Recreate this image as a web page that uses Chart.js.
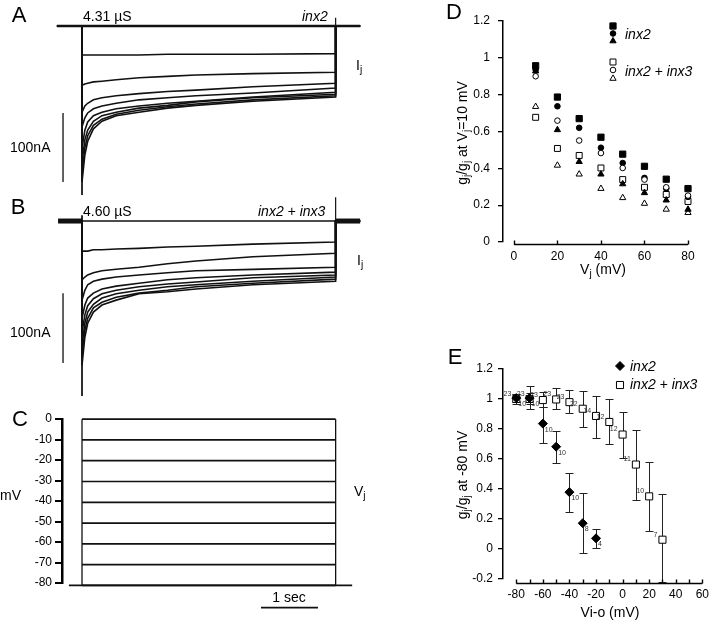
<!DOCTYPE html>
<html>
<head>
<meta charset="utf-8">
<script src="https://cdn.jsdelivr.net/npm/chart.js@4.4.1/dist/chart.umd.min.js"></script>
<style>
  body { margin: 0; width: 717px; height: 630px; position: relative; overflow: hidden; background: #fff;
         font-family: "Liberation Sans", Arial, Helvetica, sans-serif; color: #000; }
  canvas { position: absolute; }
  .t { position: absolute; white-space: nowrap; line-height: 1; transform: translateY(-50%); font-size: 14px; }
  .c { transform: translate(-50%, -50%); }
  .rot { transform: translate(-50%, -50%) rotate(-90deg); }
  .p { font-size: 22px; }
  .i { font-style: italic; }
  sub { font-size: 0.72em; vertical-align: -0.3em; line-height: 0; }
</style>
</head>
<body>
<canvas id="traceA" width="380" height="200" style="left:0;top:0"></canvas>
<canvas id="traceB" width="380" height="205" style="left:0;top:195px"></canvas>
<canvas id="axisC" width="72" height="215" style="left:0;top:400px"></canvas>
<canvas id="stepC" width="380" height="224" style="left:0;top:406px"></canvas>
<canvas id="chartD" width="277" height="300" style="left:440px;top:0"></canvas>
<canvas id="chartE" width="277" height="310" style="left:440px;top:320px"></canvas>

<div class="t p c" style="left:19px;top:15px">A</div>
<div class="t" style="left:83px;top:16px">4.31 µS</div>
<div class="t i" style="left:302px;top:16px">inx2</div>
<div class="t" style="left:356px;top:65px">I<sub>j</sub></div>
<div class="t" style="left:10px;top:147px">100nA</div>

<div class="t p c" style="left:18px;top:207px">B</div>
<div class="t" style="left:83px;top:211px">4.60 µS</div>
<div class="t i" style="left:258px;top:211px">inx2 + inx3</div>
<div class="t" style="left:357px;top:260px">I<sub>j</sub></div>
<div class="t" style="left:10px;top:332px">100nA</div>

<div class="t p c" style="left:20px;top:419px">C</div>
<div class="t" style="left:0;top:495px">mV</div>
<div class="t" style="left:354px;top:491px">V<sub>j</sub></div>
<div class="t c" style="left:289px;top:597px">1 sec</div>

<div class="t p c" style="left:454px;top:12px">D</div>
<div class="t i" style="left:625px;top:34px">inx2</div>
<div class="t i" style="left:625px;top:71px">inx2 + inx3</div>
<div class="t c" style="left:603px;top:269px">V<sub>j</sub> (mV)</div>
<div class="t rot" style="left:462px;top:133px">g<sub>j</sub>/g<sub>j</sub> at V<sub>j</sub>=10 mV</div>

<div class="t p c" style="left:455px;top:357px">E</div>
<div class="t i" style="left:630px;top:366px">inx2</div>
<div class="t i" style="left:630px;top:384px">inx2 + inx3</div>
<div class="t c" style="left:610px;top:612px">Vi-o (mV)</div>
<div class="t rot" style="left:462px;top:475px">g<sub>j</sub>/g<sub>j</sub> at -80 mV</div>

<script>
// junctional current traces, nA, sampled at these times (s) after the step
const sampleTimes = [0, 0.05, 0.1, 0.2, 0.35, 0.6, 1, 1.5, 2, 3, 4.45]
const pulseEnd = 4.45

// Vj = 10..80 mV, top to bottom
const inx2Traces = [
  [-42, -42, -42, -42, -42, -42, -42, -41, -41, -41, -40],
  [-86, -84, -83, -81, -80, -78, -75, -73, -71, -69, -67],
  [-125, -116, -112, -107, -104, -101, -98, -95, -93, -88, -83],
  [-146, -133, -126, -120, -116, -112, -107, -104, -101, -97, -90],
  [-177, -151, -139, -130, -125, -120, -116, -112, -109, -103, -96],
  [-197, -165, -151, -138, -130, -125, -119, -115, -110, -104, -99],
  [-215, -177, -159, -144, -135, -128, -122, -117, -113, -107, -101],
  [-226, -187, -167, -149, -138, -130, -125, -119, -115, -109, -103]
]
const inx23Traces = [
  [-43, -43, -43, -41, -41, -40, -39, -37, -36, -33, -30],
  [-84, -80, -77, -74, -71, -69, -66, -61, -57, -51, -46],
  [-113, -99, -91, -86, -83, -80, -77, -74, -71, -69, -66],
  [-139, -120, -110, -103, -97, -93, -89, -84, -81, -77, -73],
  [-159, -134, -121, -111, -104, -99, -94, -90, -87, -81, -77],
  [-177, -146, -130, -119, -110, -104, -99, -94, -91, -86, -80],
  [-193, -156, -139, -124, -116, -109, -103, -99, -94, -89, -83],
  [-206, -166, -146, -130, -120, -113, -104, -101, -97, -91, -86]
]
const transientPeak = { inx2: -245, inx23: -250 }
const offTransient = { inx2: 12, inx23: 34 }

// voltage steps (panel C)
const holdingMv = -80
const stepLevels = [0, -10, -20, -30, -40, -50, -60, -70, -80]
const stepTicks = [-80, -70, -60, -50, -40, -30, -20, -10, 0]

// panel D: normalised gj vs Vj
const vj = [10, 20, 30, 40, 50, 60, 70, 80]
const inx2Square = [0.957, 0.787, 0.670, 0.569, 0.477, 0.411, 0.341, 0.290]
const inx2Circle = [0.935, 0.737, 0.620, 0.512, 0.429, 0.348, 0.290, 0.245]
const inx2Triangle = [0.928, 0.609, 0.436, 0.368, 0.315, 0.267, 0.227, 0.177]
const inx23Square = [0.677, 0.508, 0.470, 0.402, 0.339, 0.297, 0.258, 0.220]
const inx23Circle = [0.900, 0.659, 0.551, 0.483, 0.402, 0.339, 0.297, 0.252]
const inx23Triangle = [0.735, 0.416, 0.368, 0.290, 0.240, 0.209, 0.177, 0.159]
const vjTicks = [0, 20, 40, 60, 80]

// panel E: gj at -80 mV vs Vi-o
const vioInx2 = [-80, -70, -60, -50, -40, -30, -20]
const gInx2 = [1.006, 1.006, 0.836, 0.682, 0.379, 0.172, 0.071]
const hiInx2 = [1.03, 1.04, 0.949, 0.787, 0.507, 0.375, 0.132]
const loInx2 = [0.98, 0.97, 0.710, 0.574, 0.247, -0.029, 0.009]
const nInx2 = [10, 10, 10, 10, 10, 8, 4]

const vioInx23 = [-80, -70, -60, -50, -40, -30, -20, -10, 0, 10, 20, 30]
const gInx23 = [1.0, 1.0, 0.993, 0.997, 0.979, 0.935, 0.887, 0.847, 0.763, 0.563, 0.351, 0.062]
const hiInx23 = [1.03, 1.085, 1.046, 1.076, 1.057, 1.052, 1.019, 0.997, 0.913, 0.794, 0.578, 0.364]
const loInx23 = [0.97, 0.935, 0.949, 0.931, 0.904, 0.810, 0.743, 0.697, 0.604, 0.329, 0.119, -0.22]
const nInx23 = [23, 23, 23, 23, 23, 22, 14, 12, 12, 11, 10, 7]
const vioTicks = [-80, -70, -60, -50, -40, -30, -20, -10, 0, 10, 20, 30, 40, 50, 60]

const FONT = "'Liberation Sans', Arial, Helvetica, sans-serif"
const INK = "#111"
const tickFont = { family: FONT, size: 12 }
const fmt = v => String(+v.toFixed(1))

const pts = (xs, ys) => xs.map((x, i) => ({ x, y: ys[i] }))

function currentTrace(values, start, stop) {
  return [{ x: start, y: 0 }, { x: 0, y: 0 }, ...pts(sampleTimes, values),
    { x: pulseEnd, y: 0 }, { x: stop, y: 0 }]
}

function line(data, width) {
  return { data, borderColor: INK, borderWidth: width, pointRadius: 0, tension: 0, clip: false, fill: false }
}

function traceChart(id, datasets, padding, yMin, yMax) {
  return new Chart(document.getElementById(id), {
    type: "line",
    data: { datasets },
    options: {
      responsive: false, animation: false, events: [],
      layout: { padding },
      plugins: { legend: { display: false }, tooltip: { enabled: false } },
      scales: {
        x: { type: "linear", display: false, min: -0.351, max: 4.895 },
        y: { display: false, min: yMin, max: yMax }
      }
    }
  })
}

// A
traceChart("traceA", [
  line([{ x: -0.44, y: 0 }, { x: 4.88, y: 0 }], 2.6),
  line([{ x: 0, y: 0 }, { x: 0, y: transientPeak.inx2 }], 1),
  line([{ x: pulseEnd, y: 0 }, { x: pulseEnd, y: offTransient.inx2 }], 1.2),
  line([{ x: -0.333, y: -126 }, { x: -0.333, y: -226 }], 1.3),
  ...inx2Traces.map(v => line(currentTrace(v, -0.44, 4.88), 1.6))
], { left: 62, right: 19, top: 10, bottom: 10 }, -237.7, 23.2)

// B
traceChart("traceB", [
  line([{ x: -0.42, y: 0 }, { x: 0, y: 0 }], 5),
  line([{ x: pulseEnd, y: 0 }, { x: 4.88, y: 0 }], 5),
  line([{ x: 0, y: 0 }, { x: pulseEnd, y: 0 }], 1.6),
  line([{ x: 0, y: 8 }, { x: 0, y: transientPeak.inx23 }], 1),
  line([{ x: pulseEnd, y: 0 }, { x: pulseEnd, y: offTransient.inx23 }], 1.2),
  line([{ x: -0.333, y: -103 }, { x: -0.333, y: -203 }], 1.3),
  ...inx23Traces.map(v => line(currentTrace(v, -0.42, 4.88), 1.6))
], { left: 62, right: 19, top: 10, bottom: 10 }, -241.4, 22.9)

// C: the voltage axis on its own canvas, the steps on a wider range over it
new Chart(document.getElementById("axisC"), {
  type: "line",
  data: { datasets: [] },
  options: {
    responsive: false, animation: false, events: [],
    layout: { padding: { top: 19, bottom: 32 } },
    plugins: { legend: { display: false }, tooltip: { enabled: false } },
    scales: {
      x: { type: "linear", display: false, min: 0, max: 1 },
      y: {
        min: -80, max: 0,
        afterBuildTicks: s => { s.ticks = stepTicks.map(value => ({ value })) },
        afterFit: s => { s.width = 62 },
        ticks: { color: "#000", font: tickFont, padding: 3 },
        grid: { drawOnChartArea: false, tickLength: 7, color: "#000", lineWidth: 2 },
        border: { color: "#000", width: 2.5 }
      }
    }
  }
})

// steps canvas starts at 406: 0 mV sits at y 419, -80 mV at y 583 (20.5 px per 10 mV)
const stepTop = Math.max(...stepLevels)
traceChart("stepC", [
  line([{ x: 3.14, y: -90.7 }, { x: 4.14, y: -90.7 }], 1.6),
  line([{ x: -0.23, y: holdingMv }, { x: 4.74, y: holdingMv }], 1.8),
  line([{ x: 0, y: holdingMv }, { x: 0, y: stepTop }], 1.3),
  line([{ x: pulseEnd, y: holdingMv }, { x: pulseEnd, y: stepTop }], 1.3),
  ...stepLevels.map(v => line([{ x: 0, y: v }, { x: pulseEnd, y: v }], 1.7))
], { left: 62, right: 19, top: 3, bottom: 3 }, -100, 4.88)

// detached x axis with inward ticks, as in D and E
const xAxisLine = {
  id: "xAxisLine",
  afterDraw(chart, args, opts) {
    const { ctx, chartArea, scales: { x } } = chart
    const y = Math.round(chartArea.bottom + opts.offset) + 0.5
    ctx.save()
    ctx.strokeStyle = "#000"
    ctx.lineWidth = 1.4
    ctx.beginPath()
    ctx.moveTo(x.getPixelForValue(opts.marks[0]), y)
    ctx.lineTo(x.getPixelForValue(opts.marks[opts.marks.length - 1]), y)
    opts.marks.forEach(v => {
      const px = Math.round(x.getPixelForValue(v)) + 0.5
      ctx.moveTo(px, y)
      ctx.lineTo(px, y - opts.tick)
    })
    ctx.stroke()
    ctx.restore()
  }
}

const markerLegend = {
  id: "markerLegend",
  afterDraw(chart, args, opts) {
    const ctx = chart.ctx
    ctx.save()
    opts.items.forEach(it => {
      ctx.fillStyle = it.fill
      ctx.strokeStyle = "#000"
      ctx.lineWidth = 1
      Chart.helpers.drawPoint(ctx, { pointStyle: it.style, radius: it.radius, rotation: 0, borderWidth: 1 }, it.x, it.y)
    })
    ctx.restore()
  }
}

const errorBars = {
  id: "errorBars",
  beforeDatasetsDraw(chart, args, opts) {
    const { ctx, scales: { x, y } } = chart
    ctx.save()
    ctx.strokeStyle = "#222"
    ctx.lineWidth = 1
    opts.sets.forEach(set => set.x.forEach((v, i) => {
      const px = Math.round(x.getPixelForValue(v)) + 0.5
      const hi = Math.round(y.getPixelForValue(set.hi[i])) + 0.5
      const lo = Math.round(y.getPixelForValue(set.lo[i])) + 0.5
      ctx.beginPath()
      ctx.moveTo(px, hi); ctx.lineTo(px, lo)
      ctx.moveTo(px - 4, hi); ctx.lineTo(px + 4, hi)
      ctx.moveTo(px - 4, lo); ctx.lineTo(px + 4, lo)
      ctx.stroke()
    }))
    ctx.restore()
  }
}

const countLabels = {
  id: "countLabels",
  afterDatasetsDraw(chart, args, opts) {
    const { ctx, scales: { x, y } } = chart
    ctx.save()
    ctx.fillStyle = "#333"
    ctx.font = "7px " + FONT
    ctx.textBaseline = "middle"
    opts.sets.forEach(set => {
      ctx.textAlign = set.align
      set.x.forEach((v, i) => {
        ctx.fillText(String(set.n[i]), x.getPixelForValue(v) + set.dx, y.getPixelForValue(set.y[i]) + set.dy)
      })
    })
    ctx.restore()
  }
}

function marker(data, style, radius, fill) {
  return { data, pointStyle: style, pointRadius: radius, backgroundColor: fill, borderColor: "#000",
    borderWidth: 1, showLine: false, clip: false }
}

// D
new Chart(document.getElementById("chartD"), {
  type: "scatter",
  data: {
    datasets: [
      marker(pts(vj, inx2Square), "rect", 4.4, "#000"),
      marker(pts(vj, inx2Triangle), "triangle", 3.6, "#000"),
      marker(pts(vj, inx23Circle), "circle", 2.8, "#fff"),
      marker(pts(vj, inx2Circle), "circle", 2.8, "#000"),
      marker(pts(vj, inx23Square), "rect", 4.2, "#fff"),
      marker(pts(vj, inx23Triangle), "triangle", 3.6, "#fff")
    ]
  },
  plugins: [xAxisLine, markerLegend],
  options: {
    responsive: false, animation: false, events: [],
    layout: { padding: { top: 21, right: 29 } },
    plugins: {
      legend: { display: false }, tooltip: { enabled: false },
      xAxisLine: { marks: vjTicks, offset: 1.5, tick: 4 },
      markerLegend: { items: [
        { x: 173, y: 26, style: "rect", radius: 4.4, fill: "#000" },
        { x: 173, y: 33.5, style: "circle", radius: 2.8, fill: "#000" },
        { x: 173, y: 41, style: "triangle", radius: 3.6, fill: "#000" },
        { x: 173, y: 62, style: "rect", radius: 4.2, fill: "#fff" },
        { x: 173, y: 70, style: "circle", radius: 2.8, fill: "#fff" },
        { x: 173, y: 78.5, style: "triangle", radius: 3.6, fill: "#fff" }
      ] }
    },
    scales: {
      x: {
        type: "linear", min: -5, max: 80,
        afterBuildTicks: s => { s.ticks = vjTicks.map(value => ({ value })) },
        afterFit: s => { s.height = 58 },
        grid: { display: false, drawTicks: false }, border: { display: false },
        ticks: { color: "#000", font: tickFont, padding: 7 }
      },
      y: {
        min: 0, max: 1.2,
        afterFit: s => { s.width = 63 },
        ticks: { stepSize: 0.2, color: "#000", font: tickFont, padding: 8, callback: fmt },
        grid: { drawOnChartArea: false, tickLength: 5, color: "#000", lineWidth: 1.3 },
        border: { color: "#000", width: 1.5 }
      }
    }
  }
})

// E
new Chart(document.getElementById("chartE"), {
  type: "scatter",
  data: {
    datasets: [
      marker(pts(vioInx2, gInx2), "rectRot", 4.5, "#000"),
      marker(pts(vioInx23, gInx23), "rect", 5, "#fff")
    ]
  },
  plugins: [xAxisLine, markerLegend, errorBars, countLabels],
  options: {
    responsive: false, animation: false, events: [],
    layout: { padding: { top: 49, right: 12 } },
    plugins: {
      legend: { display: false }, tooltip: { enabled: false },
      xAxisLine: { marks: vioTicks, offset: 3.5, tick: 4 },
      markerLegend: { items: [
        { x: 180, y: 46, style: "rectRot", radius: 4.5, fill: "#000" },
        { x: 180, y: 65, style: "rect", radius: 5, fill: "#fff" }
      ] },
      errorBars: { sets: [
        { x: vioInx23, hi: hiInx23, lo: loInx23 },
        { x: vioInx2, hi: hiInx2, lo: loInx2 }
      ] },
      countLabels: { sets: [
        { x: vioInx23, y: gInx23, n: nInx23, align: "right", dx: -5, dy: -5 },
        { x: vioInx2, y: gInx2, n: nInx2, align: "left", dx: 2, dy: 6 }
      ] }
    },
    scales: {
      x: {
        type: "linear", min: -90, max: 60,
        afterBuildTicks: s => { s.ticks = vioTicks.filter(v => v % 20 === 0).map(value => ({ value })) },
        afterFit: s => { s.height = 51 },
        grid: { display: false, drawTicks: false }, border: { display: false },
        ticks: { color: "#000", font: tickFont, padding: 8 }
      },
      y: {
        min: -0.2, max: 1.2,
        afterFit: s => { s.width = 63 },
        ticks: { stepSize: 0.2, color: "#000", font: tickFont, padding: 5, callback: fmt },
        grid: { drawOnChartArea: false, tickLength: 5, color: "#000", lineWidth: 1.3 },
        border: { color: "#000", width: 1.5 }
      }
    }
  }
})
</script>
</body>
</html>
